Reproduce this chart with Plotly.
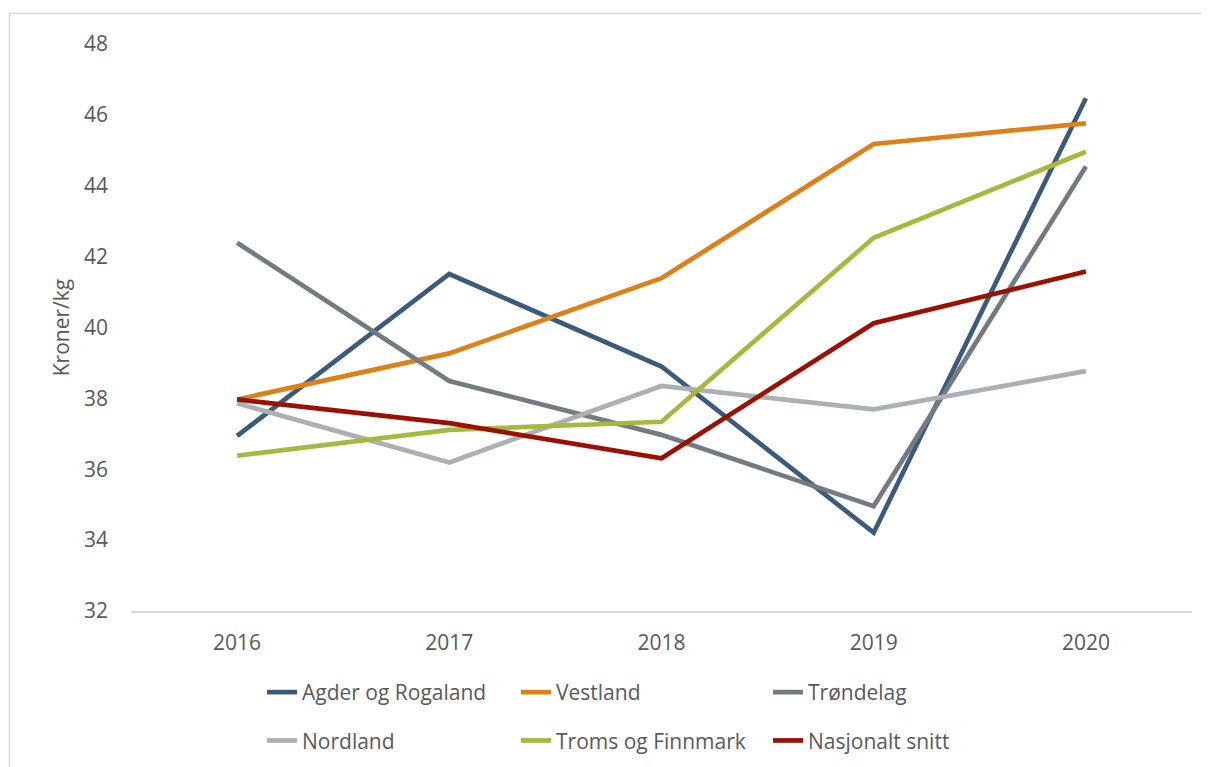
import plotly.graph_objects as go

years = ["2016", "2017", "2018", "2019", "2020"]
agder = [36.94, 41.51, 38.90, 34.21, 46.47]
vestland = [37.97, 39.27, 41.39, 45.18, 45.76]
trondelag = [42.39, 38.49, 36.97, 34.96, 44.54]
nordland = [37.86, 36.19, 38.35, 37.69, 38.77]
troms = [36.38, 37.11, 37.34, 42.53, 44.96]
nasjonalt = [37.97, 37.30, 36.31, 40.12, 41.58]

series = [
    ("Agder og Rogaland", agder, "#3C5A7A", "legend"),
    ("Vestland", vestland, "#DC801A", "legend2"),
    ("Trøndelag", trondelag, "#737B82", "legend3"),
    ("Nordland", nordland, "#AAB0B6", "legend"),
    ("Troms og Finnmark", troms, "#A8B83E", "legend2"),
    ("Nasjonalt snitt", nasjonalt, "#991100", "legend3"),
]

FONT = "Open Sans"
TXT = "#595959"
FS = 21

fig = go.Figure()
for name, vals, col, lg in series:
    fig.add_trace(go.Scatter(
        x=years, y=vals, name=name, mode="lines",
        line=dict(color=col, width=4.7),
        legend=lg, legendgroup=name,
    ))

# page has an 8px body margin; figure is sized to fill the rest
W, H = 1201, 759
L, R, T, B = 123, 17, 36, 156
pw, ph = W - L - R, H - T - B

def px2x(px):
    return (px - L) / pw

def py2y(py):
    return (H - B - py) / ph

leg_common = dict(
    orientation="v", yanchor="top", xanchor="left",
    font=dict(family=FONT, size=FS, color=TXT),
    bgcolor="rgba(0,0,0,0)", tracegroupgap=18, borderwidth=0,
)

fig.update_layout(
    width=W, height=H,
    margin=dict(l=L, r=R, t=T, b=B, autoexpand=False),
    paper_bgcolor="white", plot_bgcolor="white",
    font=dict(family=FONT, size=FS, color=TXT),
    showlegend=True,
    legend=dict(x=px2x(254), y=py2y(664), **leg_common),
    legend2=dict(x=px2x(508), y=py2y(664), **leg_common),
    legend3=dict(x=px2x(760), y=py2y(664), **leg_common),
    xaxis=dict(
        type="category", range=[-0.5, 4.5],
        showgrid=False, showline=True, linecolor="#D9D9D9", linewidth=1.5,
        ticks="", tickfont=dict(family=FONT, size=FS, color=TXT),
        ticklabelstandoff=12, zeroline=False,
    ),
    yaxis=dict(
        range=[32, 48], dtick=2, tick0=32,
        showgrid=False, showline=False, zeroline=False, ticks="",
        tickfont=dict(family=FONT, size=FS, color=TXT),
        ticklabelstandoff=22,
        title=dict(text="Kroner/kg", font=dict(family=FONT, size=FS, color=TXT), standoff=8),
    ),
    shapes=[dict(
        type="rect", xref="paper", yref="paper",
        x0=px2x(1.5), x1=px2x(1240), y0=py2y(800), y1=py2y(5.5),
        line=dict(color="#D9D9D9", width=1.5), fillcolor="rgba(0,0,0,0)", layer="below",
    )],
)

fig.write_html("out.html")
